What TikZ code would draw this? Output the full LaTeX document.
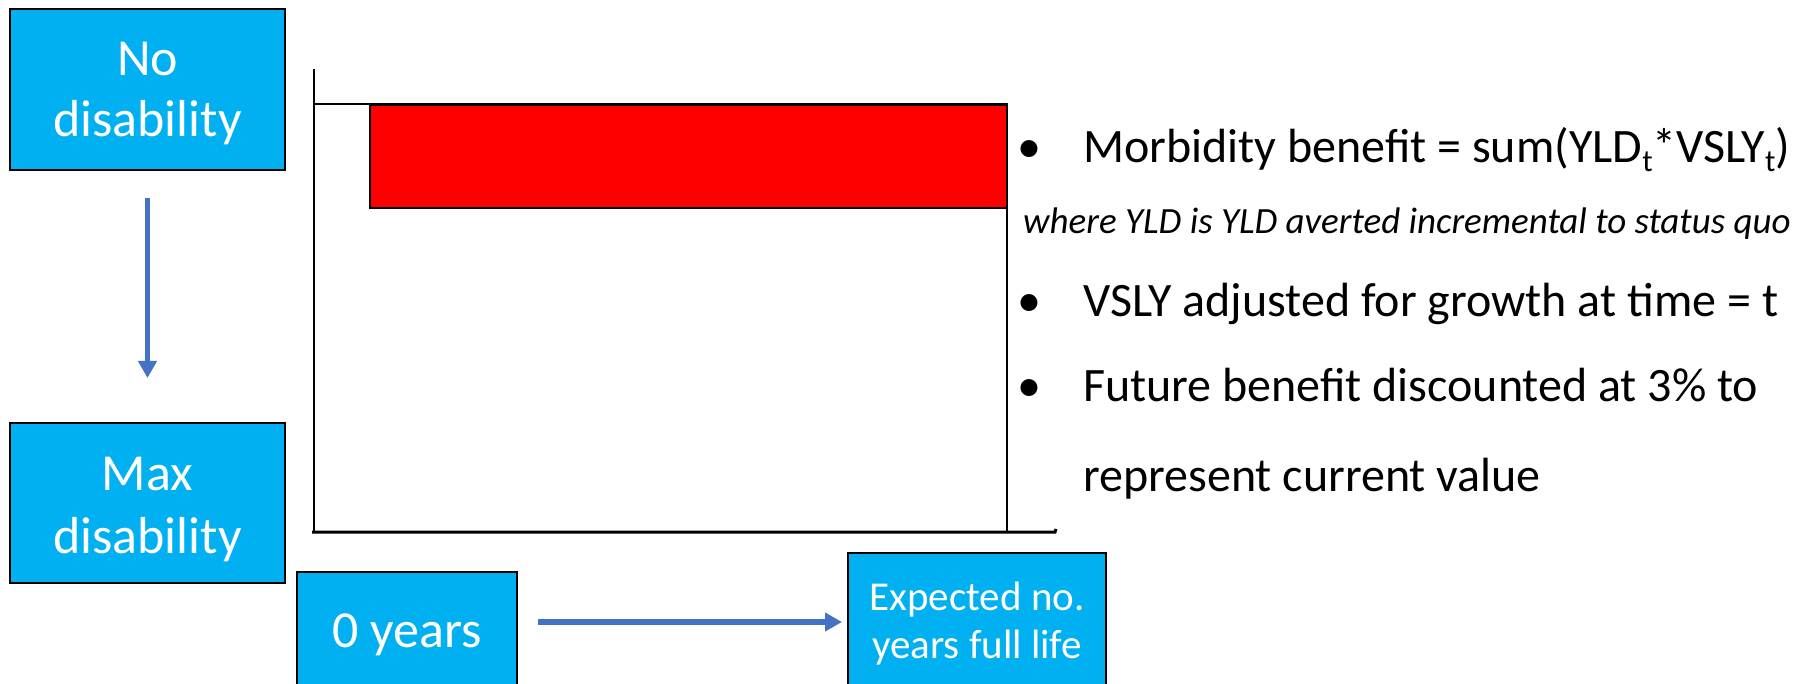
\documentclass[tikz,border=0pt]{standalone}
\usepackage{fontspec}
\setmainfont{Carlito}
\usetikzlibrary{arrows.meta}
\definecolor{boxblue}{HTML}{00B0F0}
\definecolor{arrblue}{HTML}{4472C4}
\begin{document}
\begin{tikzpicture}[x=1pt,y=-1pt,
  blbox/.style={draw=black, line width=2pt, fill=boxblue, inner sep=0pt},
  btext/.style={text=white, anchor=base, inner sep=0pt, font=\fontsize{52}{62}\selectfont},
  stext/.style={text=white, anchor=base, inner sep=0pt, font=\fontsize{41}{49}\selectfont},
  conn/.style={draw=arrblue, line width=5.5pt, -{Triangle[width=18pt,length=17pt]}},
  bultext/.style={anchor=base west, inner sep=0pt, font=\fontsize{48}{58}\selectfont},
  bulmark/.style={anchor=base, inner sep=0pt, font=\fontsize{48}{58}\selectfont},
  axisline/.style={draw=black, line width=2pt},
]
\clip (0,0) rectangle (1802,684);
\fill[white] (0,0) rectangle (1802,684);

% chart
\draw[axisline, fill=white] (313.5,104) rectangle (1007,532);
\draw[axisline] (313.5,69) -- (313.5,532);
\draw[draw=black, line width=3pt] (312,532) -- (1055,532) -- (1056,529);
\draw[draw=black, line width=1.5pt, fill=red] (370,105) rectangle (1007,208);

% left boxes
\node[blbox, minimum width=275pt, minimum height=161pt] (nodis) at (147.5,89.5) {};
\node[btext] (nodis1) at (147.5,76) {No};
\node[btext] (nodis2) at (147.5,137) {disability};

\node[blbox, minimum width=275pt, minimum height=160pt] (maxdis) at (147.5,503) {};
\node[btext] (maxdis1) at (147.5,490) {Max};
\node[btext] (maxdis2) at (147.5,553) {disability};

\draw[conn, shorten <=27pt, shorten >=44pt] (nodis) -- (maxdis);

% bottom boxes
\node[blbox, minimum width=220pt, minimum height=148pt] (zero) at (407,646) {};
\node[btext] (zero1) at (407,647) {0 years};

\node[blbox, minimum width=258pt, minimum height=167pt] (full) at (977,636.5) {};
\node[stext] (full1) at (977,610) {Expected no.};
\node[stext] (full2) at (977,658) {years full life};

\draw[conn, shorten <=20pt, shorten >=5pt] (zero.east |- 0,622) coordinate (za) -- (full.west |- 0,622) coordinate (fa);

% bullet text
\node[bulmark] (b1) at (1029,163) {•};
\node[bultext] (t1) at (1083,163) {Morbidity benefit = sum(YLD\raisebox{-0.17em}{\fontsize{31}{31}\selectfont t}*VSLY\raisebox{-0.17em}{\fontsize{31}{31}\selectfont t})};
\node[anchor=base west, inner sep=0pt, font=\fontsize{37}{44}\selectfont\itshape] (t1b) at (1023,234) {where YLD is YLD averted incremental to status quo};
\node[bulmark] (b2) at (1029,317) {•};
\node[bultext] (t2) at (1083,317) {VSLY adjusted for growth at time = t};
\node[bulmark] (b3) at (1029,402) {•};
\node[bultext] (t3) at (1083,402) {Future benefit discounted at 3\% to};
\node[bultext] (t4) at (1083,491) {represent current value};
\end{tikzpicture}
\end{document}
